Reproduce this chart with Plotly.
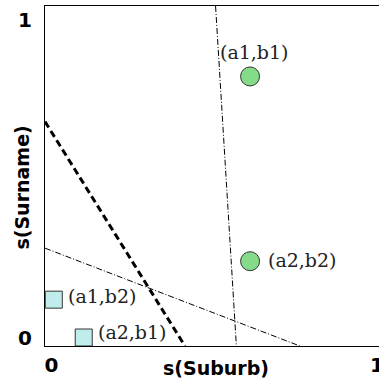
import plotly.graph_objects as go

# ---- data ----
circle_labels = ["(a1,b1)", "(a2,b2)"]
circle_x = [0.610, 0.610]
circle_y = [0.821, 0.240]

square_labels = ["(a1,b2)", "(a2,b1)"]
square_x = [0.007, 0.099]
square_y = [0.119, 0.0]

# thick dashed boundary (end points on the frame)
dashed_x = [-0.02, 0.410]
dashed_y = [0.679, -0.0267]
# thin dash-dot boundaries
dd1_x = [-0.02, 0.763]
dd1_y = [0.281, -0.0267]
dd2_x = [0.504, 0.568]
dd2_y = [1.0425, -0.0267]

x_ticks = [0, 1]
y_ticks = [0, 1]
x_title = "s(Suburb)"
y_title = "s(Surname)"

fig = go.Figure()

fig.add_trace(go.Scatter(x=dashed_x, y=dashed_y, mode="lines",
                         line=dict(color="black", width=3, dash="7px,4px"),
                         hoverinfo="skip"))
fig.add_trace(go.Scatter(x=dd1_x, y=dd1_y, mode="lines",
                         line=dict(color="black", width=1, dash="6px,2px,1px,2px"),
                         hoverinfo="skip"))
fig.add_trace(go.Scatter(x=dd2_x, y=dd2_y, mode="lines",
                         line=dict(color="black", width=1, dash="6px,2px,1px,2px"),
                         hoverinfo="skip"))

fig.add_trace(go.Scatter(x=circle_x, y=circle_y, mode="markers",
                         marker=dict(symbol="circle", size=19, color="#84dc8a",
                                     line=dict(color="#333333", width=1)),
                         cliponaxis=False))
fig.add_trace(go.Scatter(x=square_x, y=square_y, mode="markers",
                         marker=dict(symbol="square", size=17, color="#c0ecec",
                                     line=dict(color="#333333", width=1)),
                         cliponaxis=False))

serif = dict(family="DejaVu Serif", size=19, color="#222222")
# label annotations anchored at the marks
fig.add_annotation(x=circle_x[0], y=circle_y[0], text=circle_labels[0], showarrow=False,
                   xanchor="center", yanchor="middle", xshift=4, yshift=24, font=serif)
fig.add_annotation(x=circle_x[1], y=circle_y[1], text=circle_labels[1], showarrow=False,
                   xanchor="left", yanchor="middle", xshift=16, yshift=1, font=serif)
for lx, ly, lt in zip(square_x, square_y, square_labels):
    fig.add_annotation(x=lx, y=ly, text=lt, showarrow=False,
                       xanchor="left", yanchor="middle", xshift=12, yshift=4 if ly > 0.05 else 6,
                       font=serif)

FIG_W = 392
PLOT_L = 45
plot_w = FIG_W - PLOT_L

bold = dict(family="DejaVu Sans", size=19, color="black")
fig.add_annotation(xref="paper", yref="paper", x=(216 - PLOT_L) / plot_w, y=-0.064,
                   text="<b>" + x_title + "</b>",
                   showarrow=False, xanchor="center", yanchor="middle", font=bold)
fig.add_annotation(xref="paper", yref="paper", x=(22 - PLOT_L) / plot_w, y=0.466,
                   text="<b>" + y_title + "</b>",
                   showarrow=False, xanchor="center", yanchor="middle", textangle=-90, font=bold)

fig.update_xaxes(range=[-0.02, -0.02 + plot_w / 325.5], tickvals=x_ticks,
                 ticktext=["<b>%d</b>" % v for v in x_ticks],
                 showgrid=False, zeroline=False, showline=True, linecolor="black",
                 linewidth=1, mirror=True, ticks="", ticklabelstandoff=1,
                 automargin=False,
                 tickfont=dict(family="DejaVu Sans", size=20, color="black"))
fig.update_yaxes(range=[-0.0267, 1.0425], tickvals=y_ticks,
                 ticktext=["<b>%d</b>" % v for v in y_ticks],
                 showgrid=False, zeroline=False, showline=True, linecolor="black",
                 linewidth=1, mirror=False, ticks="", ticklabelstandoff=8,
                 automargin=False,
                 tickfont=dict(family="DejaVu Sans", size=20, color="black"))

fig.update_layout(width=FIG_W, height=382, showlegend=False,
                  margin=dict(l=PLOT_L, r=0, t=6, b=36, autoexpand=False),
                  plot_bgcolor="white", paper_bgcolor="white")

fig.write_html("out.html", config={"displayModeBar": False},
               post_script=("document.body.style.margin='0px';"
                            "document.body.style.overflow='hidden';"
                            "document.documentElement.style.overflow='hidden';"))
